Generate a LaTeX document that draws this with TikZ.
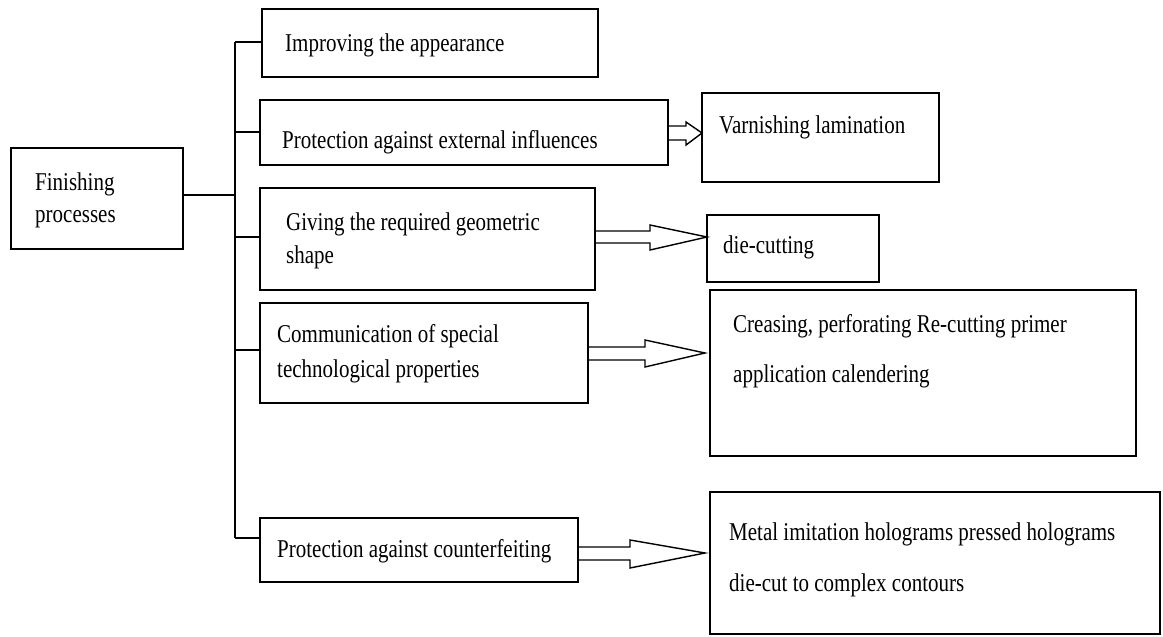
\documentclass[tikz,border=0pt]{standalone}
\usepackage{fontspec}
\setmainfont{Liberation Serif}
\usepackage{graphicx}
\usetikzlibrary{calc}
\newcommand{\tx}[1]{\scalebox{1}[1.22]{#1}}
\tikzset{
  box/.style={draw, line width=1.6pt, inner sep=0pt, outer sep=0pt, anchor=north west},
  lbl/.style={inner sep=0pt, anchor=base west, font=\fontsize{21}{25}\selectfont},
  conn/.style={line width=1.5pt},
  arr/.style={line width=1.4pt, line join=miter},
}
\begin{document}
\begin{tikzpicture}[x=1pt,y=-1pt]
\useasboundingbox[fill=white] (0,0) rectangle (1163,637);

% left boxes
\node[box, minimum width=172, minimum height=101] (F) at (11,148) {};
\node[box, minimum width=336, minimum height=68] (B1) at (262,9) {};
\node[box, minimum width=408, minimum height=65] (B2) at (260,100) {};
\node[box, minimum width=335, minimum height=102] (B3) at (260,188) {};
\node[box, minimum width=328, minimum height=100] (B4) at (260,303) {};
\node[box, minimum width=318, minimum height=64] (B5) at (260,518) {};
% right boxes
\node[box, minimum width=237, minimum height=89] (V) at (702,93) {};
\node[box, minimum width=172, minimum height=67] (D) at (707,215) {};
\node[box, minimum width=426, minimum height=166] (C) at (710,290) {};
\node[box, minimum width=450, minimum height=142] (M) at (710,492) {};

% texts
\node[lbl] (tF1) at (35,190) {\tx{Finishing}};
\node[lbl] (tF2) at (35,222) {\tx{processes}};
\node[lbl] (t1) at (285,51) {\tx{Improving the appearance}};
\node[lbl] (t2) at (282,148) {\tx{Protection against external influences}};
\node[lbl] (t3a) at (286,230) {\tx{Giving the required geometric}};
\node[lbl] (t3b) at (286,263) {\tx{shape}};
\node[lbl] (t4a) at (277,342) {\tx{Communication of special}};
\node[lbl] (t4b) at (277,377) {\tx{technological properties}};
\node[lbl] (t5) at (277,557) {\tx{Protection against counterfeiting}};
\node[lbl] (tV) at (719,133) {\tx{Varnishing lamination}};
\node[lbl] (tD) at (723,253) {\tx{die-cutting}};
\node[lbl] (tC1) at (733,332) {\tx{Creasing, perforating Re-cutting primer}};
\node[lbl] (tC2) at (733,382) {\tx{application calendering}};
\node[lbl] (tM1) at (729,540) {\tx{Metal imitation holograms pressed holograms}};
\node[lbl] (tM2) at (729,591) {\tx{die-cut to complex contours}};

% tree connectors
\coordinate (T) at (235,42);
\coordinate (Tb) at (235,538);
\draw[conn] (T) -- (Tb);
\draw[conn] (F.east |- 0,195) -- (T |- 0,195);
\draw[conn] (B1.west |- 0,42) -- (T);
\draw[conn] (B2.west |- 0,132) -- (T |- 0,132);
\draw[conn] (B3.west |- 0,237) -- (T |- 0,237);
\draw[conn] (B4.west |- 0,350) -- (T |- 0,350);
\draw[conn] (B5.west |- 0,538) -- (Tb);

% hollow arrows
\draw[arr] (B2.east |- 0,126) -- (686,126) -- (686,122) -- (V.west |- 0,133)
  -- (686,145) -- (686,140) -- (B2.east |- 0,140);
\draw[arr] (B3.east |- 0,231) -- (650,231) -- (650,225) -- (D.west |- 0,237)
  -- (650,250) -- (650,243) -- (B3.east |- 0,243);
\draw[arr] (B4.east |- 0,347) -- (645,347) -- (645,340) -- ($(C.west |- 0,353)+(-5,0)$)
  -- (645,367) -- (645,360) -- (B4.east |- 0,360);
\draw[arr] (B5.east |- 0,547) -- (630,547) -- (630,540) -- ($(M.west |- 0,553)+(-5,0)$)
  -- (630,568) -- (630,560) -- (B5.east |- 0,560);
\end{tikzpicture}
\end{document}
